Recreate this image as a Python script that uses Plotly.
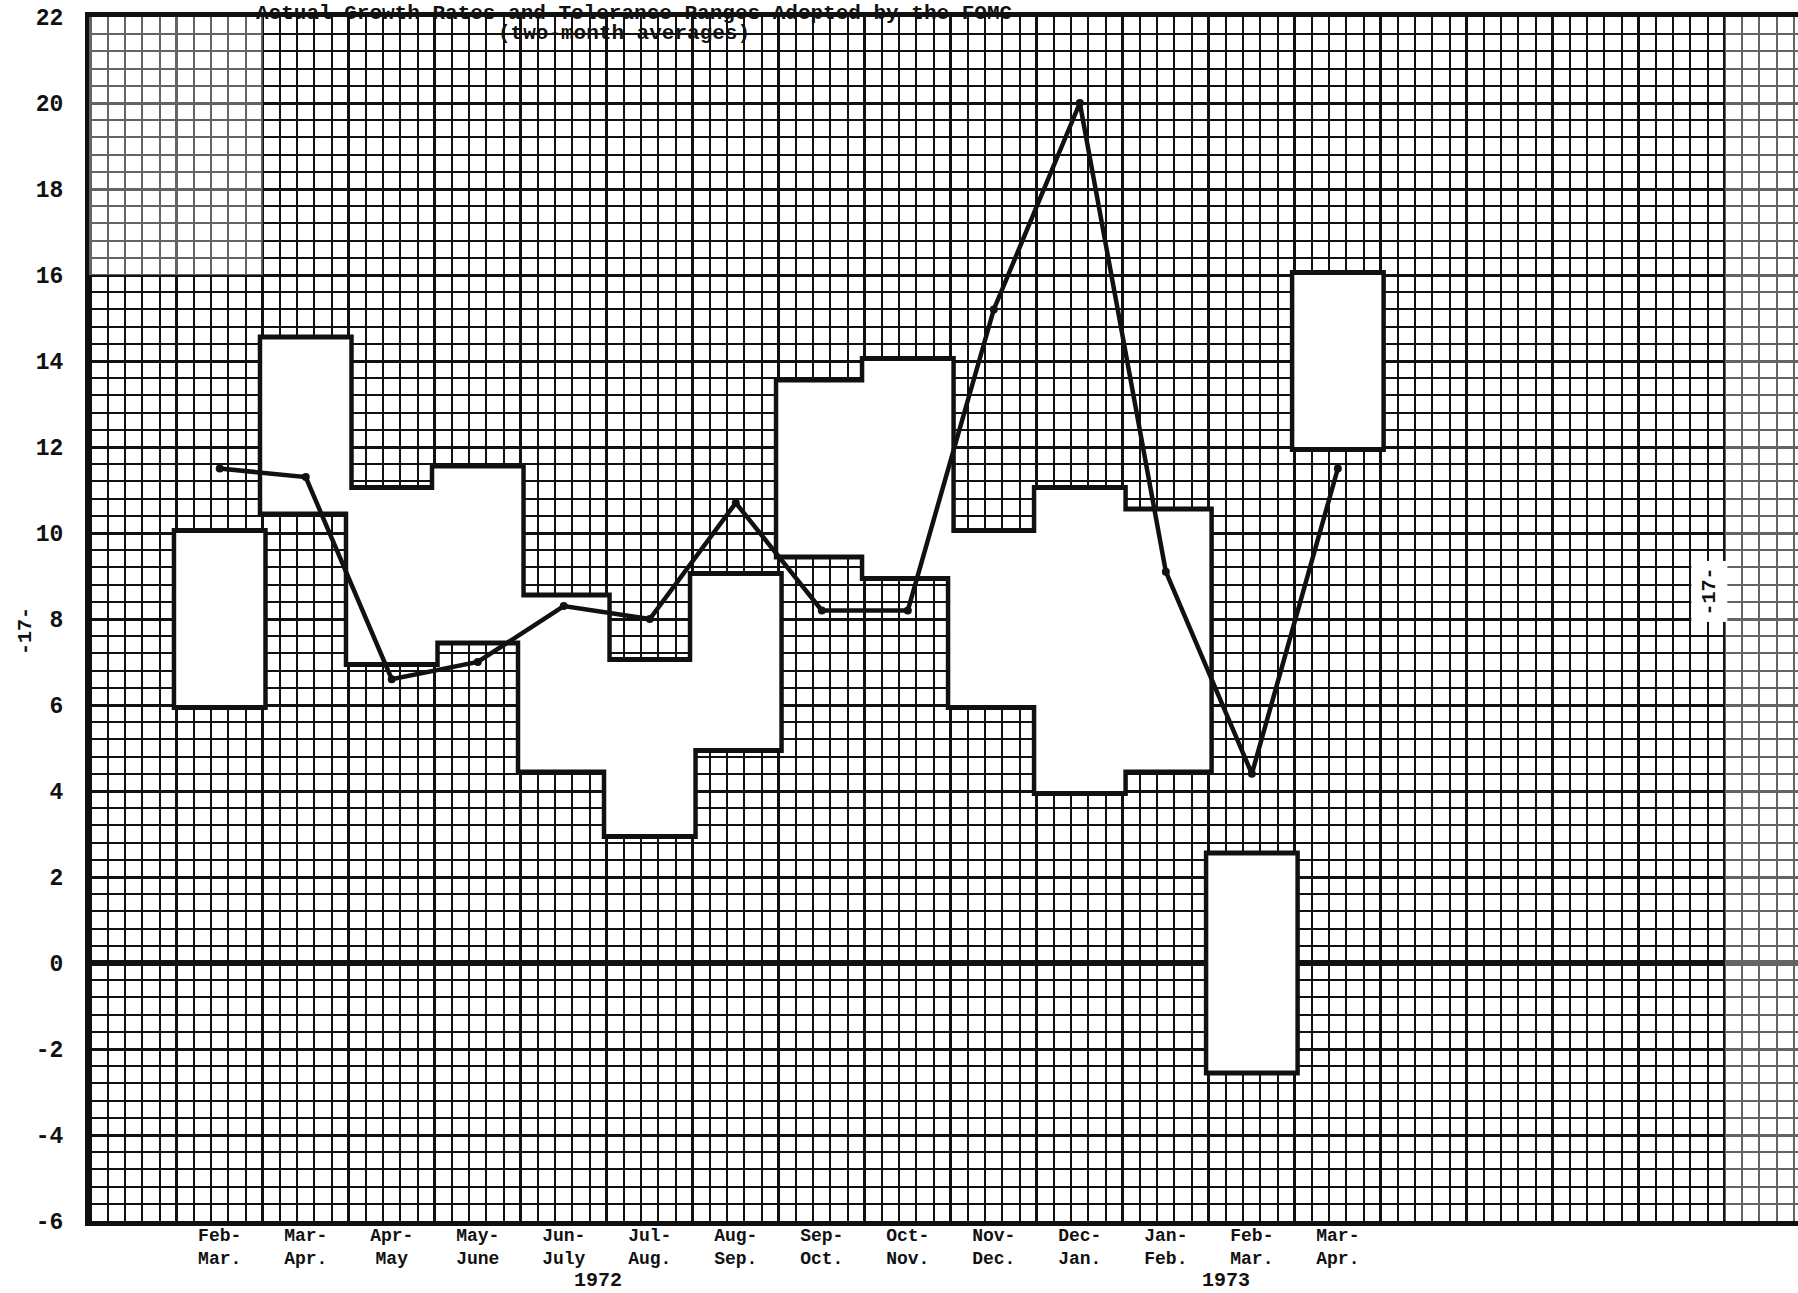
import plotly.graph_objects as go

# ---- data ----
categories = ["Feb-<br>Mar.", "Mar-<br>Apr.", "Apr-<br>May", "May-<br>June", "Jun-<br>July",
              "Jul-<br>Aug.", "Aug-<br>Sep.", "Sep-<br>Oct.", "Oct-<br>Nov.", "Nov-<br>Dec.",
              "Dec-<br>Jan.", "Jan-<br>Feb.", "Feb-<br>Mar.", "Mar-<br>Apr."]
range_low = [6.0, 10.5, 7.0, 7.5, 4.5, 3.0, 5.0, 9.5, 9.0, 6.0, 4.0, 4.5, -2.5, 12.0]
range_high = [10.0, 14.5, 11.0, 11.5, 8.5, 7.0, 9.0, 13.5, 14.0, 10.0, 11.0, 10.5, 2.5, 16.0]
actual = [11.5, 11.3, 6.6, 7.0, 8.3, 8.0, 10.7, 8.2, 8.2, 15.2, 20.0, 9.1, 4.4, 11.5]
year_labels = ["1972", "1973"]
year_pos = [4.4, 11.7]
y_ticks = list(range(-6, 23, 2))
y_ticktext = [str(v) for v in y_ticks]
title_line1 = "Actual Growth Rates and Tolerance Ranges Adopted by the FOMC"
title_line2 = "(two-month averages)"
page_mark = "-17-"

FONT = "Liberation Mono, Courier New, DejaVu Sans Mono, monospace"
INK = "#111111"
idx = list(range(len(categories)))
spans = [h - l for l, h in zip(range_low, range_high)]
XR = [-1.52, 18.35]

fig = go.Figure()
# outlines (thick), then white fills on top so neighbouring ranges merge
fig.add_bar(x=idx, base=range_low, y=spans, width=1.0, xaxis="x", yaxis="y",
            marker=dict(color="white", line=dict(color=INK, width=10)),
            hoverinfo="skip", showlegend=False)
fig.add_bar(x=idx, base=range_low, y=spans, width=1.012, xaxis="x", yaxis="y",
            marker=dict(color="white", line=dict(width=0)),
            hoverinfo="skip", showlegend=False)
fig.add_scatter(x=idx, y=actual, mode="lines+markers", xaxis="x2", yaxis="y",
                line=dict(color=INK, width=4.5),
                marker=dict(color=INK, size=8), showlegend=False)

fig.update_layout(
    width=1798, height=1293, autosize=False,
    margin=dict(l=89, r=0, t=17, b=72),
    paper_bgcolor="white", plot_bgcolor="white",
    barmode="overlay", showlegend=False,
    font=dict(family=FONT, color=INK, size=18, weight="bold"),
    xaxis=dict(
        range=XR, tick0=-0.5, dtick=1, tickmode="linear",
        showgrid=True, gridcolor=INK, gridwidth=3.4,
        minor=dict(tickmode="linear", tick0=-0.5, dtick=0.2, showgrid=True,
                   gridcolor=INK, gridwidth=2.0),
        showticklabels=False, ticks="", zeroline=False,
        showline=True, linecolor=INK, linewidth=5, mirror=True,
    ),
    xaxis2=dict(
        range=XR, overlaying="x", anchor="y", side="bottom",
        tickmode="array", tickvals=idx, ticktext=categories,
        showgrid=False, zeroline=False, showline=False, ticks="",
        tickfont=dict(family=FONT, size=18, color=INK, weight="bold"),
        ticklabelstandoff=1,
    ),
    yaxis=dict(
        range=[-6, 22], tickmode="array", tickvals=y_ticks, ticktext=y_ticktext,
        showgrid=True, gridcolor=INK, gridwidth=3.4,
        minor=dict(tickmode="linear", tick0=0, dtick=0.4, showgrid=True,
                   gridcolor=INK, gridwidth=2.0),
        ticks="", zeroline=True, zerolinecolor=INK, zerolinewidth=6,
        showline=True, linecolor=INK, linewidth=4, mirror=False,
        tickfont=dict(family=FONT, size=23, color=INK, weight="bold"),
        ticklabelstandoff=17,
    ),
    shapes=[
        # faded scan areas of the graph paper
        dict(type="rect", xref="x", yref="y", x0=-1.52, x1=0.5, y0=16, y1=22,
             fillcolor="white", opacity=0.35, line=dict(width=0), layer="between"),
        dict(type="rect", xref="x", yref="y", x0=17.5, x1=18.35, y0=-6, y1=22,
             fillcolor="white", opacity=0.35, line=dict(width=0), layer="between"),
    ],
)

ann = []
for lab, pos in zip(year_labels, year_pos):
    ann.append(dict(x=pos, xref="x", y=-0.0498, yref="paper", text=lab,
                    showarrow=False, yanchor="middle", xanchor="center",
                    font=dict(family=FONT, size=20, color=INK, weight="bold")))
ann.append(dict(x=0.319, xref="paper", y=1.0033, yref="paper", text=title_line1,
                showarrow=False, yanchor="middle", xanchor="center",
                font=dict(family=FONT, size=21, color=INK, weight="bold")))
ann.append(dict(x=0.313, xref="paper", y=0.9859, yref="paper", text=title_line2,
                showarrow=False, yanchor="middle", xanchor="center",
                font=dict(family=FONT, size=21, color=INK, weight="bold")))
ann.append(dict(x=-0.0374, xref="paper", y=0.490, yref="paper", text=page_mark,
                showarrow=False, textangle=-90, yanchor="middle", xanchor="center",
                font=dict(family=FONT, size=20, color=INK, weight="bold")))
ann.append(dict(x=0.948, xref="paper", y=0.523, yref="paper", text=page_mark,
                showarrow=False, textangle=-90, yanchor="middle", xanchor="center",
                bgcolor="white", borderpad=6,
                font=dict(family=FONT, size=20, color=INK, weight="bold")))
fig.update_layout(annotations=ann)

fig.write_html("out.html", config={"displayModeBar": False},
               post_script="document.body.style.margin='0';")
